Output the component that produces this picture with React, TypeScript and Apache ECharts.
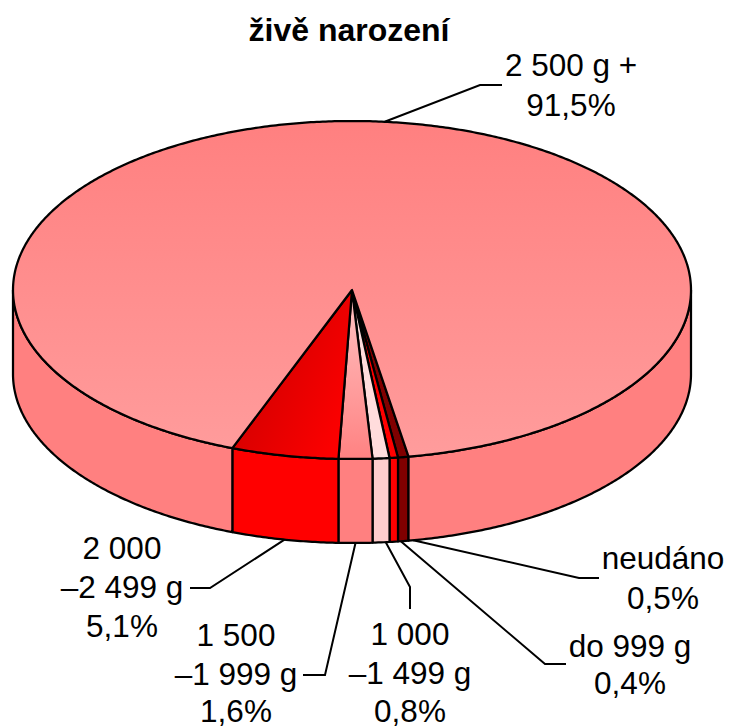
import React, { useEffect, useRef } from "react";
import * as echarts from "echarts";

const categories = ["neudáno", "do 999 g", "1 000 –1 499 g", "1 500 –1 999 g", "2 000 –2 499 g", "2 500 g +"];
const shares = [0.5, 0.4, 0.8, 1.6, 5.1, 91.5];
const shareLabels = ["0,5%", "0,4%", "0,8%", "1,6%", "5,1%", "91,5%"];
const labelLines = [
  ["neudáno", "0,5%"],
  ["do 999 g", "0,4%"],
  ["1 000", "–1 499 g", "0,8%"],
  ["1 500", "–1 999 g", "1,6%"],
  ["2 000", "–2 499 g", "5,1%"],
  ["2 500 g +", "91,5%"],
];

const FONT = '"Liberation Sans", Arial, sans-serif';
const CX = 352, CY = 290, RX = 339, RY = 169, DEPTH = 84;
const START_ANGLE = -9.6;

const grad = (x: number, y: number, x2: number, y2: number, a: string, b: string) =>
  new echarts.graphic.LinearGradient(x, y, x2, y2, [
    { offset: 0, color: a },
    { offset: 1, color: b },
  ]);

const topFill = [
  "#800000",
  "#FF0000",
  "#FFDCDC",
  grad(0, 0, 0, 1, "#FFC4C4", "#FF8282"),
  grad(0, 0.2, 1, 0.8, "#C80000", "#FF0000"),
  grad(0, 0, 0, 1, "#FF8080", "#FF9C9C"),
];
const sideFill = ["#800000", "#FF0000", "#FFCCCC", "#FF8080", "#FF0000", "#FF8080"];

// label layout: centre x and line-centre y's; leader elbow, leader end, anchor shift (deg)
const labelX = [663, 630, 410, 236, 122, 571];
const labelY = [[558, 598], [646, 683], [634, 673, 711], [635, 674, 711], [548, 587, 626], [65, 105]];
const leaderMid = [[579, 578], [545, 664], [410, 587], [325, 675], [210, 588], [480, 85]];
const leaderEnd = [[599, 578], [566, 664], [410, 609], [303, 675], [190, 588], [502, 85]];
const anchorShift = [-1.7, -1.2, -0.8, 0, 0, 0];

const total = shares.reduce((s, v) => s + v, 0);
const spans = shares.map((v) => (v / total) * 360);
const starts = spans.map((_, i) => START_ANGLE + spans.slice(0, i).reduce((s, v) => s + v, 0));

// angle a: 0 at the front, growing clockwise (towards the left)
const pt = (a: number, dy = 0): [number, number] => {
  const r = (a * Math.PI) / 180;
  return [CX - RX * Math.sin(r), CY + RY * Math.cos(r) + dy];
};
const arc = (a1: number, a2: number, dy = 0) => {
  const n = Math.max(2, Math.ceil(Math.abs(a2 - a1) / 0.5));
  const out: [number, number][] = [];
  for (let i = 0; i <= n; i++) out.push(pt(a1 + ((a2 - a1) * i) / n, dy));
  return out;
};

const LINE = { stroke: "#000", lineWidth: 2.25, lineJoin: "round" as const };

function wall(a1: number, a2: number, fill: string) {
  return {
    type: "polygon",
    shape: { points: [...arc(a1, a2), ...arc(a2, a1, DEPTH)] },
    style: { fill, ...LINE },
  };
}

function renderSlice(params: any, api: any) {
  const i = params.dataIndex;
  const span = (api.value(0) / total) * 360;
  const a1 = starts[i];
  const a2 = a1 + span;
  const children: any[] = [];
  // visible wall ranges: front half, a in [-90, 90] (or [270, 450])
  for (const [lo, hi] of [[-90, 90], [270, 450]]) {
    const s = Math.max(a1, lo);
    const e = Math.min(a2, hi);
    if (e > s) children.push(wall(s, e, sideFill[i]));
  }
  children.push({
    type: "polygon",
    shape: { points: [[CX, CY], ...arc(a1, a2)] },
    style: { fill: topFill[i], ...LINE },
  });
  return { type: "group", children };
}

function buildGraphics() {
  const els: any[] = [];
  categories.forEach((_, i) => {
    const mid = starts[i] + spans[i] / 2 + anchorShift[i];
    const anchor = i === 5 ? pt(mid) : pt(mid, DEPTH);
    els.push({
      type: "polyline",
      silent: true,
      shape: { points: [anchor, leaderMid[i], leaderEnd[i]] },
      style: { stroke: "#000", lineWidth: 2, fill: "none" },
    });
    labelLines[i].forEach((line, j) => {
      els.push({
        type: "text",
        silent: true,
        style: {
          text: line,
          x: labelX[i],
          y: labelY[i][j],
          align: "center",
          verticalAlign: "middle",
          font: `31.5px ${FONT}`,
          fill: "#000",
        },
      });
    });
  });
  return els;
}

export default function App() {
  const ref = useRef<HTMLDivElement>(null);
  useEffect(() => {
    const chart = echarts.init(ref.current!, null, { renderer: "svg" });
    chart.setOption({
      animation: false,
      backgroundColor: "#fff",
      title: {
        text: "živě narození",
        left: 344,
        top: 9,
        textAlign: "center",
        textStyle: { fontFamily: FONT, fontSize: 32, fontWeight: "bold", color: "#000" },
      },
      graphic: { elements: buildGraphics() },
      series: [
        {
          type: "custom",
          coordinateSystem: "none",
          silent: true,
          renderItem: renderSlice,
          data: shares.map((v, i) => ({ name: categories[i], value: [v], label: shareLabels[i] })),
        },
      ],
    });
    return () => chart.dispose();
  }, []);
  return <div ref={ref} style={{ position: "absolute", left: 0, top: 0, width: 731, height: 728 }} />;
}
